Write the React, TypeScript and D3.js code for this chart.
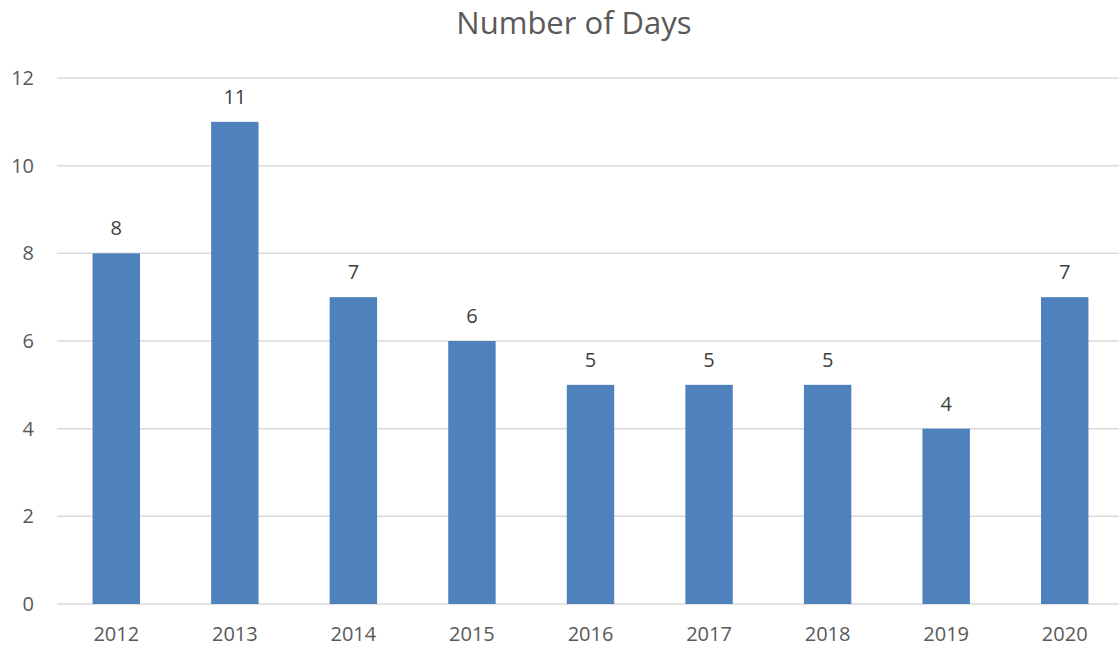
import React from "react";
import * as d3 from "d3";

const years = ["2012", "2013", "2014", "2015", "2016", "2017", "2018", "2019", "2020"];
const days = [8, 11, 7, 6, 5, 5, 5, 4, 7];
const yTicks = [0, 2, 4, 6, 8, 10, 12];

const W = 1119;
const H = 649;
const font = "'Open Sans', sans-serif";
const textColor = "#595959";

export default function App() {
  const x = d3.scaleBand().domain(years).range([57, 1124]).paddingInner(0.6).paddingOuter(0.3);
  const y = d3.scaleLinear().domain([0, 12]).range([604, 78]);

  return (
    <svg
      width={W}
      height={H}
      style={{ position: "absolute", left: 0, top: 0, background: "#fff" }}
    >
      <text x={574} y={34} textAnchor="middle" fontFamily={font} fontSize={31} fill={textColor}>
        Number of Days
      </text>

      {/* gridlines + y labels */}
      {yTicks.map((t) => (
        <g key={t}>
          <line x1={57} x2={W} y1={y(t)} y2={y(t)} stroke="#d9d9d9" strokeWidth={1.5} />
          <text
            x={34}
            y={y(t)}
            dy="0.35em"
            textAnchor="end"
            fontFamily={font}
            fontSize={20}
            fill={textColor}
          >
            {t}
          </text>
        </g>
      ))}

      {/* bars */}
      {years.map((yr, i) => (
        <rect
          key={yr}
          x={x(yr)}
          y={y(days[i])}
          width={x.bandwidth()}
          height={y(0) - y(days[i])}
          fill="#4f81bd"
        />
      ))}

      {/* value labels */}
      {years.map((yr, i) => (
        <text
          key={"v" + yr}
          x={(x(yr) as number) + x.bandwidth() / 2}
          y={y(days[i]) - 18}
          textAnchor="middle"
          fontFamily={font}
          fontSize={20}
          fill="#404040"
        >
          {days[i]}
        </text>
      ))}

      {/* x labels */}
      {years.map((yr) => (
        <text
          key={"x" + yr}
          x={(x(yr) as number) + x.bandwidth() / 2}
          y={641}
          textAnchor="middle"
          fontFamily={font}
          fontSize={20}
          fill={textColor}
        >
          {yr}
        </text>
      ))}
    </svg>
  );
}
